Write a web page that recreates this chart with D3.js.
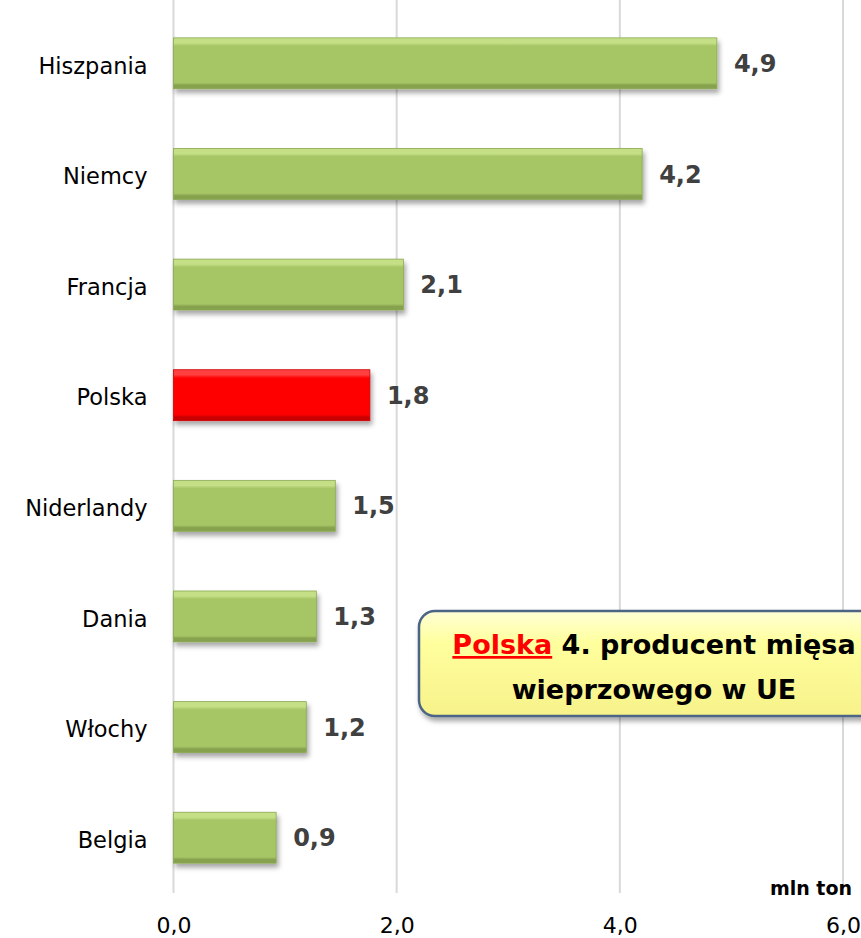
<!DOCTYPE html>
<html>
<head>
<meta charset="utf-8">
<script src="https://cdn.jsdelivr.net/npm/d3@7"></script>
<style>
	body { margin: 0; background: #fff; }
	svg { display: block; }
</style>
</head>
<body>
<div id="chart"></div>
<script>
// Dane: produkcja mięsa wieprzowego (mln ton)
const countries = ['Hiszpania', 'Niemcy', 'Francja', 'Polska', 'Niderlandy', 'Dania', 'Włochy', 'Belgia'];
const values = [4.87, 4.2, 2.06, 1.76, 1.45, 1.28, 1.19, 0.92];
const valueLabels = ['4,9', '4,2', '2,1', '1,8', '1,5', '1,3', '1,2', '0,9'];
const xTicks = [0, 2, 4, 6];
const highlight = 'Polska';

const W = 861, H = 938;
const margin = { top: 8, right: 18, bottom: 45, left: 173.5 };
const font = "'DejaVu Sans', sans-serif";

const svg = d3.select('#chart').append('svg')
	.attr('width', W)
	.attr('height', H);

const defs = svg.append('defs');

// Gradienty dla efektu fazowania
function bevel(id, light, mid, dark) {
	const g = defs.append('linearGradient').attr('id', id)
		.attr('x1', 0).attr('y1', 0).attr('x2', 0).attr('y2', 1);
	g.append('stop').attr('offset', '0%').attr('stop-color', light);
	g.append('stop').attr('offset', '10%').attr('stop-color', light);
	g.append('stop').attr('offset', '16%').attr('stop-color', mid);
	g.append('stop').attr('offset', '88%').attr('stop-color', mid);
	g.append('stop').attr('offset', '93%').attr('stop-color', dark);
	g.append('stop').attr('offset', '100%').attr('stop-color', dark);
}
bevel('green', '#c4df86', '#a6c565', '#86a24e');
bevel('red', '#ff4040', '#ff0000', '#c80000');

const shadow = defs.append('filter').attr('id', 'shadow')
	.attr('x', '-5%').attr('y', '-20%').attr('width', '115%').attr('height', '160%');
shadow.append('feDropShadow')
	.attr('dx', 2).attr('dy', 4).attr('stdDeviation', 2.5)
	.attr('flood-color', '#000').attr('flood-opacity', 0.35);

const boxGrad = defs.append('linearGradient').attr('id', 'box')
	.attr('x1', 0).attr('y1', 0).attr('x2', 0).attr('y2', 1);
boxGrad.append('stop').attr('offset', '0%').attr('stop-color', '#ffffd6');
boxGrad.append('stop').attr('offset', '30%').attr('stop-color', '#ffff9e');
boxGrad.append('stop').attr('offset', '100%').attr('stop-color', '#f7f28a');

// Skale
const x = d3.scaleLinear().domain([0, 6]).range([margin.left, 843]);
const y = d3.scaleBand().domain(countries)
	.range([margin.top, H - margin.bottom])
	.paddingInner(0.54).paddingOuter(0.27);

// Linie siatki
svg.append('g')
	.selectAll('line')
	.data(xTicks)
	.join('line')
	.attr('x1', (d) => x(d)).attr('x2', (d) => x(d))
	.attr('y1', 0).attr('y2', H - margin.bottom)
	.attr('stroke', '#d9d9d9')
	.attr('stroke-width', 2);

// Słupki
svg.append('g')
	.selectAll('rect')
	.data(countries)
	.join('rect')
	.attr('x', x(0))
	.attr('y', (d) => y(d))
	.attr('width', (d, i) => x(values[i]) - x(0))
	.attr('height', y.bandwidth())
	.attr('fill', (d) => (d === highlight ? 'url(#red)' : 'url(#green)'))
	.attr('stroke', (d) => (d === highlight ? '#d00000' : '#8aa852'))
	.attr('stroke-width', 0.8)
	.attr('filter', 'url(#shadow)');

// Etykiety wartości
svg.append('g')
	.selectAll('text')
	.data(countries)
	.join('text')
	.attr('x', (d, i) => x(values[i]) + 17)
	.attr('y', (d) => y(d) + y.bandwidth() / 2)
	.attr('dy', '0.36em')
	.attr('font-family', font)
	.attr('font-size', 24)
	.attr('font-weight', 'bold')
	.attr('fill', '#404040')
	.text((d, i) => valueLabels[i]);

// Oś Y (kategorie)
const yAxis = svg.append('g')
	.attr('transform', `translate(${x(0) - 14},3)`)
	.call(d3.axisLeft(y).tickSize(0).tickPadding(12));
yAxis.select('.domain').remove();
yAxis.selectAll('text')
	.attr('font-family', font)
	.attr('font-size', 22.5)
	.attr('fill', '#000');

// Oś X
const xAxis = svg.append('g')
	.attr('transform', `translate(0,${H - margin.bottom})`)
	.call(d3.axisBottom(x).tickValues(xTicks).tickSize(0).tickPadding(24)
		.tickFormat((d) => d3.format('.1f')(d).replace('.', ',')));
xAxis.select('.domain').remove();
xAxis.selectAll('text')
	.attr('font-family', font)
	.attr('font-size', 22)
	.attr('fill', '#000');

// Jednostka
svg.append('text')
	.attr('x', 852)
	.attr('y', 895)
	.attr('text-anchor', 'end')
	.attr('font-family', font)
	.attr('font-size', 19)
	.attr('font-weight', 'bold')
	.text('mln ton');

// Ramka z komentarzem
svg.append('rect')
	.attr('x', 419).attr('y', 611)
	.attr('width', 470).attr('height', 105)
	.attr('rx', 16)
	.attr('fill', 'url(#box)')
	.attr('stroke', '#4d6585')
	.attr('stroke-width', 2.5)
	.attr('filter', 'url(#shadow)');

const note = svg.append('text')
	.attr('x', 654)
	.attr('y', 654)
	.attr('text-anchor', 'middle')
	.attr('font-family', font)
	.attr('font-size', 27)
	.attr('font-weight', 'bold');
note.append('tspan')
	.attr('fill', '#ff0000')
	.attr('text-decoration', 'underline')
	.text('Polska');
note.append('tspan')
	.attr('fill', '#000')
	.text(' 4. producent mięsa');

svg.append('text')
	.attr('x', 654)
	.attr('y', 699)
	.attr('text-anchor', 'middle')
	.attr('font-family', font)
	.attr('font-size', 27)
	.attr('font-weight', 'bold')
	.text('wieprzowego w UE');
</script>
</body>
</html>
